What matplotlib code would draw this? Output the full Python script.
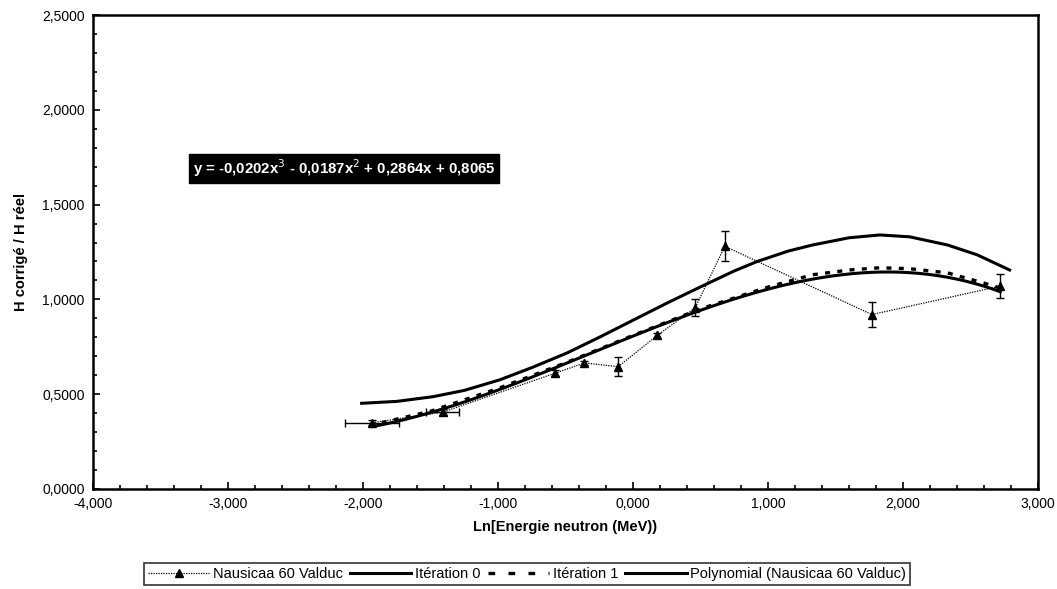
import matplotlib
matplotlib.use("Agg")
import matplotlib.pyplot as plt
import numpy as np
from matplotlib.lines import Line2D
from matplotlib.ticker import FuncFormatter, MultipleLocator

plt.rcParams["font.family"] = ["Liberation Sans", "DejaVu Sans"]

# measured points, Nausicaa 60 Valduc
ln_e = [-1.93, -1.41, -0.58, -0.36, -0.11, 0.18, 0.46, 0.68, 1.77, 2.72]
h_ratio = [0.35, 0.405, 0.61, 0.665, 0.645, 0.81, 0.955, 1.28, 0.92, 1.07]
h_err = [0.015, 0.015, 0.015, 0.01, 0.05, 0.015, 0.045, 0.08, 0.065, 0.065]
ln_err = [0.20, 0.12, 0.0, 0.0, 0.0, 0.0, 0.0, 0.0, 0.0, 0.0]

# correction curves
it0_x = [-2.01, -1.75, -1.48, -1.25, -0.99, -0.75, -0.49, -0.25, 0.0, 0.25,
         0.50, 0.75, 0.92, 1.15, 1.33, 1.6, 1.83, 2.05, 2.33, 2.55, 2.79]
it0_y = [0.452, 0.462, 0.487, 0.52, 0.575, 0.64, 0.717, 0.80, 0.89, 0.98,
         1.066, 1.15, 1.20, 1.255, 1.287, 1.325, 1.34, 1.33, 1.287, 1.235, 1.155]
it1_x = [-1.95, -1.5, -1.0, -0.5, 0.0, 0.5, 1.0, 1.33, 1.6, 1.83, 2.05, 2.33, 2.6, 2.72]
it1_y = [0.335, 0.41, 0.53, 0.665, 0.81, 0.95, 1.065, 1.13, 1.155, 1.167, 1.162,
         1.14, 1.086, 1.06]

# cubic trendline
coef = [-0.0202, -0.0187, 0.2864, 0.8065]
eq_label = "y = -0,0202x$^3$ - 0,0187x$^2$ + 0,2864x + 0,8065"

fig = plt.figure(figsize=(10.57, 5.89), dpi=100)
ax = fig.add_axes([0.088, 0.1698, 0.894, 0.8047])

ax.errorbar(ln_e, h_ratio, yerr=h_err, xerr=ln_err, color="black",
            ls=(0, (1, 1)), lw=0.9, marker="^", ms=6, capsize=3,
            elinewidth=1, zorder=4)
ax.plot(it0_x, it0_y, color="black", lw=2.2, zorder=3)
ax.plot(it1_x, it1_y, color="black", lw=2.4, ls=(0, (1.5, 2.2)), zorder=3)
xt = np.linspace(min(ln_e), max(ln_e), 200)
ax.plot(xt, np.polyval(coef, xt), color="black", lw=2.2, zorder=3)

ax.text(-3.26, 1.69, eq_label, color="white", fontsize=10.8, fontweight="bold",
        va="center", ha="left",
        bbox=dict(boxstyle="square,pad=0.25", facecolor="black", edgecolor="black"))

ax.set_xlim(-4, 3)
ax.set_ylim(0, 2.5)
ax.xaxis.set_major_locator(MultipleLocator(1))
ax.xaxis.set_minor_locator(MultipleLocator(0.2))
ax.yaxis.set_major_locator(MultipleLocator(0.5))
ax.yaxis.set_minor_locator(MultipleLocator(0.1))
ax.xaxis.set_major_formatter(FuncFormatter(lambda v, p: f"{v:.3f}".replace(".", ",")))
ax.yaxis.set_major_formatter(FuncFormatter(lambda v, p: f"{v:.4f}".replace(".", ",")))
ax.tick_params(which="both", direction="in", labelsize=10, width=1.2)
ax.tick_params(which="major", length=5, pad=6)
ax.tick_params(which="minor", length=3)
for s in ax.spines.values():
    s.set_linewidth(1.8)

ax.set_xlabel("Ln[Energie neutron (MeV))", fontsize=10.5, fontweight="bold", labelpad=6)
ax.set_ylabel("H corrigé / H réel", fontsize=10.5, fontweight="bold", labelpad=10)

handles = [
    Line2D([], [], color="black", ls=(0, (1, 1)), lw=0.9, marker="^", ms=6),
    Line2D([], [], color="black", lw=2.2),
    Line2D([], [], color="black", lw=2.4, ls=(0, (2, 4))),
    Line2D([], [], color="black", lw=2.2),
]
labels = ["Nausicaa 60 Valduc", "Itération 0", "Itération 1",
          "Polynomial (Nausicaa 60 Valduc)"]
leg = fig.legend(handles, labels, loc="center", bbox_to_anchor=(0.4986, 0.0255),
                 ncol=4, fontsize=10.5, frameon=True, fancybox=False,
                 handlelength=4.2, columnspacing=0.5, handletextpad=0.25,
                 borderpad=0.25)
leg.get_frame().set_edgecolor("black")
leg.get_frame().set_linewidth(1.2)

fig.savefig("out.png", dpi=100)
